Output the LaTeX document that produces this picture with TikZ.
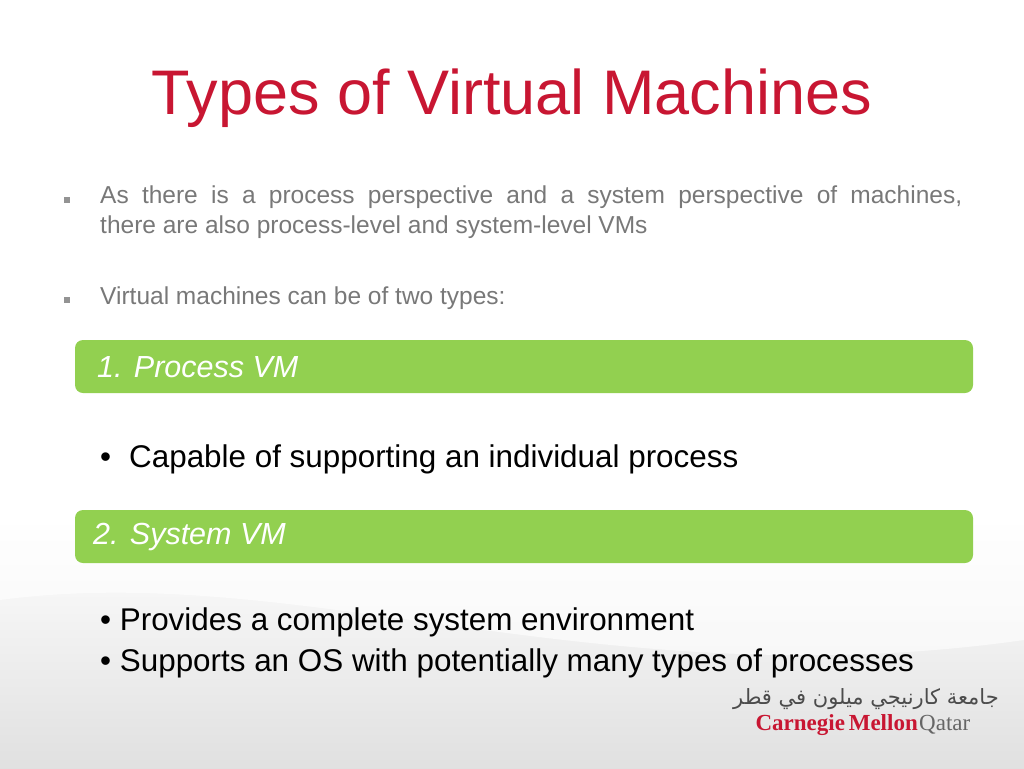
\documentclass[tikz,border=0pt]{standalone}
\usepackage{fontspec}
\setmainfont{Liberation Sans}
\newfontfamily\arabicfont[Script=Arabic]{DejaVu Sans}
\newfontfamily\logofont{Liberation Serif}
\TeXXeTstate=1
\definecolor{cmured}{RGB}{200,22,50}
\definecolor{bargreen}{RGB}{146,208,80}
\definecolor{bodygray}{RGB}{120,120,120}
\begin{document}
\begin{tikzpicture}[x=1pt,y=-1pt,
  bar/.style={fill=bargreen,rounded corners=8pt,draw=none},
  bartext/.style={anchor=west,text=white,font=\fontsize{30.5}{34}\selectfont\itshape,inner sep=0pt},
  body/.style={anchor=north west,text=bodygray,font=\fontsize{24.5}{30}\selectfont,inner sep=0pt},
  sq/.style={fill=bodygray!80,minimum size=6pt,inner sep=0pt},
  big/.style={anchor=west,font=\fontsize{31.4}{36}\selectfont,inner sep=0pt}]
\useasboundingbox (0,0) rectangle (1024,768);
\shade[top color=white,bottom color=black!12] (0,520) rectangle (1024,768);
\fill[white,opacity=0.6] (0,600) .. controls (300,560) and (600,700) .. (1024,640) -- (1024,520) -- (0,520) -- cycle;
\node[text=cmured,font=\fontsize{63}{70}\selectfont] (title) at (512,98) {Types of Virtual Machines};
\node[sq] (s1) at (67,200) {};
\node[body,text width=862pt,align=justify] (b1) at (100,186) {As there is a process perspective and a system perspective of machines,\linebreak there are also process-level and system-level VMs};
\node[sq] (s2) at (67,300) {};
\node[body] (b2) at (100,287) {Virtual machines can be of two types:};
\fill[bar] (75,340) rectangle (973,393);
\node[bartext] (p) at (97,367) {1. Process VM};
\node[big] (c1) at (100,459) {•\hspace{18pt}Capable of supporting an individual process};
\fill[bar] (75,510) rectangle (973,563);
\node[bartext] (s) at (93,537) {2. System VM};
\node[big] (d1) at (100,622) {• Provides a complete system environment};
\node[big] (d2) at (100,663) {• Supports an OS with potentially many types of processes};
\node[font=\fontsize{21}{22}\selectfont\arabicfont,text=black!70] (ar) at (866,699) {\beginR جامعة كارنيجي ميلون في قطر\endR};
\node[font=\fontsize{23}{24}\selectfont\logofont\bfseries,text=cmured,anchor=east,inner sep=0pt] (cm) at (918,725) {Carnegie\,Mellon};
\node[font=\fontsize{23}{24}\selectfont\logofont,text=black!60,anchor=west,inner sep=0pt] (qa) at (919,725) {Qatar};
\end{tikzpicture}
\end{document}
